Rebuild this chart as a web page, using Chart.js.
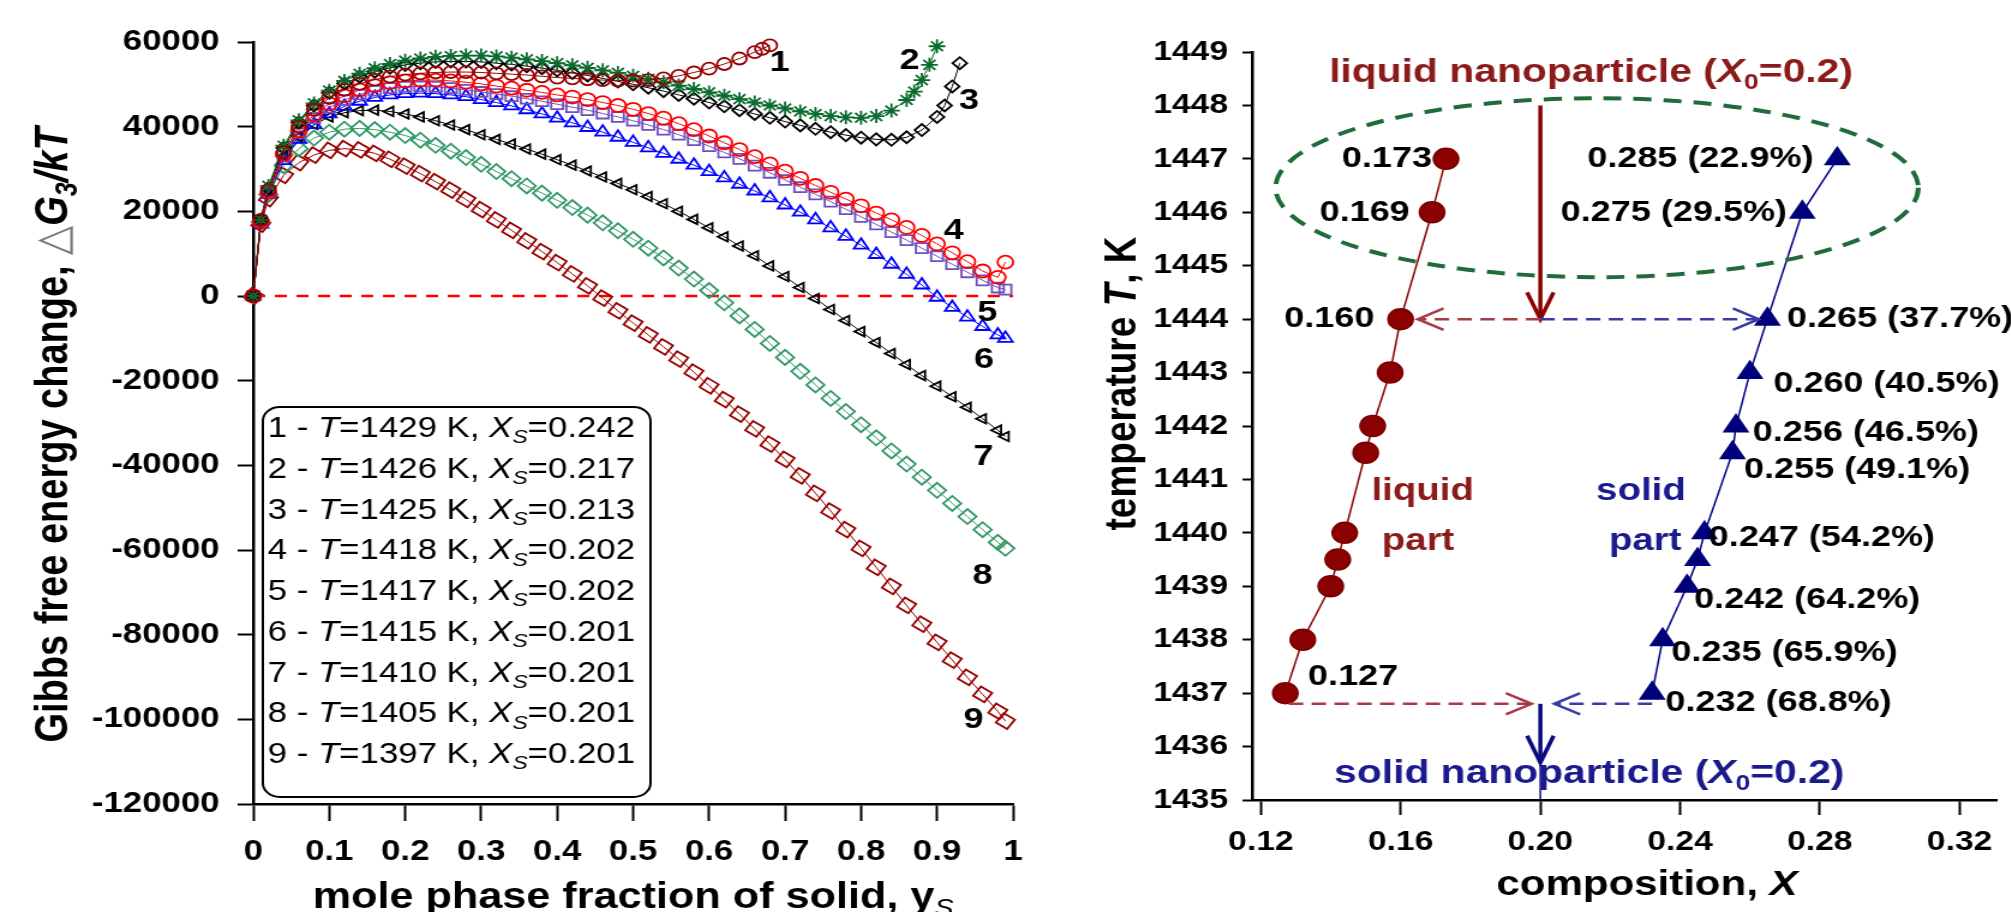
<!DOCTYPE html>
<html>
<head>
<meta charset="utf-8">
<title>Gibbs free energy change and phase composition</title>
<script src="https://cdn.jsdelivr.net/npm/chart.js@4.4.1/dist/chart.umd.min.js"></script>
<style>
  html, body { margin: 0; padding: 0; background: #fff; overflow: hidden; }
  canvas { position: absolute; top: 0; }
</style>
</head>
<body>
<!-- the original figure is stretched sideways, so the canvases are drawn narrow and widened by css -->
<canvas id="gibbsChart" width="884" height="912" style="left:0px;width:1060.8px;height:912px"></canvas>
<canvas id="phaseChart" width="793" height="912" style="left:1060px;width:951.6px;height:912px"></canvas>
<script>
'use strict';

// ---------- left panel: Gibbs free energy change vs mole phase fraction of solid ----------
let ysMain = [0, 0.01, 0.02, 0.04, 0.06, 0.08, 0.1, 0.12, 0.14, 0.16, 0.18, 0.2, 0.22, 0.24, 0.26, 0.28,
  0.3, 0.32, 0.34, 0.36, 0.38, 0.4, 0.42, 0.44, 0.46, 0.48, 0.5, 0.52, 0.54, 0.56, 0.58, 0.6, 0.62,
  0.64, 0.66, 0.68, 0.7, 0.72, 0.74, 0.76, 0.78, 0.8, 0.82, 0.84, 0.86, 0.88, 0.9, 0.92, 0.94, 0.96,
  0.98, 0.99];
let ys1 = ysMain.slice(0, 35).concat([0.67, 0.68]);
let ys2 = ysMain.slice(0, 44).concat([0.86, 0.87, 0.88, 0.89, 0.9]);
let ys3 = ysMain.slice(0, 47).concat([0.91, 0.92, 0.93]);

let g1 = [0, 18000, 25000, 34000, 40000, 44000, 46800, 48700, 50100, 51100, 51800, 52300, 52600,
  52800, 52900, 52900, 52800, 52600, 52400, 52200, 51900, 51600, 51400, 51200, 51000, 50900, 50900,
  51000, 51400, 52000, 52800, 53700, 54800, 56100, 57600, 58400, 59200];
let g2 = [0, 18000, 26000, 35500, 41500, 45500, 48500, 50800, 52500, 53800, 54800, 55600, 56100,
  56500, 56700, 56800, 56800, 56600, 56300, 55900, 55500, 55000, 54500, 53900, 53300, 52700, 52000,
  51300, 50500, 49700, 48900, 48100, 47300, 46500, 45700, 45000, 44300, 43600, 43000, 42500, 42200,
  42100, 42500, 43800, 46300, 48300, 51000, 54600, 59000];
let g3 = [0, 18000, 25500, 35000, 41000, 45000, 48000, 50200, 51800, 53000, 53900, 54600, 55000,
  55300, 55400, 55400, 55300, 55000, 54700, 54300, 53800, 53300, 52700, 52100, 51400, 50700, 50000,
  49200, 48400, 47500, 46600, 45700, 44800, 43900, 43000, 42100, 41200, 40300, 39500, 38700, 38000,
  37400, 37000, 36900, 37500, 39200, 42300, 45000, 49500, 55000];
let g4 = [0, 17500, 24500, 33500, 39000, 42800, 45400, 47300, 48700, 49700, 50400, 50800, 51000,
  51000, 50800, 50500, 50100, 49600, 49100, 48600, 48100, 47500, 47000, 46400, 45700, 45000, 44100,
  43100, 42000, 40700, 39300, 37800, 36200, 34600, 32900, 31200, 29500, 27800, 26100, 24500, 22900,
  21300, 19600, 18000, 16200, 14300, 12300, 10200, 8100, 5900, 4400, 8000];
let g5 = [0, 17500, 24500, 33000, 38500, 42000, 44500, 46300, 47600, 48500, 49100, 49400, 49500,
  49400, 49100, 48700, 48200, 47700, 47200, 46600, 46000, 45300, 44600, 43900, 43100, 42300, 41400,
  40400, 39300, 38100, 36800, 35400, 33900, 32400, 30800, 29100, 27400, 25700, 24000, 22300, 20500,
  18700, 16900, 15100, 13200, 11300, 9400, 7500, 5600, 3700, 2000, 1500];
let g6 = [0, 17000, 24000, 32000, 37000, 40500, 43000, 44800, 46000, 46900, 47500, 47800, 47900,
  47800, 47500, 47100, 46400, 45700, 44900, 44000, 43000, 42000, 40900, 39800, 38700, 37500, 36300,
  35000, 33700, 32300, 30900, 29400, 27900, 26400, 24800, 23200, 21500, 19800, 18000, 16100, 14100,
  12000, 9800, 7500, 5100, 2600, -300, -2700, -5000, -7200, -9200, -10000];
let g7 = [0, 18000, 25000, 33000, 37600, 40500, 42300, 43300, 43800, 43900, 43600, 43000, 42300,
  41400, 40400, 39300, 38100, 37000, 35900, 34700, 33500, 32200, 30900, 29500, 28100, 26600, 25100,
  23500, 21800, 20000, 18100, 16100, 14000, 11800, 9500, 7100, 4600, 2000, -600, -3200, -5800,
  -8400, -11000, -13600, -16200, -18800, -21300, -23800, -26300, -29000, -31700, -33200];
let g8 = [0, 17500, 24000, 30800, 34800, 37300, 38700, 39400, 39600, 39300, 38700, 37900, 36800,
  35600, 34200, 32700, 31100, 29400, 27700, 26000, 24300, 22600, 20900, 19100, 17300, 15400, 13400,
  11300, 9000, 6600, 4000, 1300, -1600, -4700, -7900, -11200, -14500, -17800, -21000, -24200,
  -27300, -30400, -33500, -36600, -39700, -42800, -45900, -49000, -52100, -55200, -58200, -59600];
let g9 = [0, 17000, 23000, 28500, 31500, 33300, 34400, 34800, 34500, 33700, 32300, 30700, 28900,
  27000, 25000, 22800, 20400, 18000, 15500, 13000, 10500, 7900, 5200, 2400, -500, -3500, -6400,
  -9200, -12000, -14900, -18000, -21200, -24500, -27900, -31400, -35000, -38600, -42500, -46600,
  -50800, -55200, -59600, -64100, -68600, -73100, -77500, -81800, -86000, -90100, -94100, -98100,
  -100400];

let curveT = [1429, 1426, 1425, 1418, 1417, 1415, 1410, 1405, 1397];
let legendXs = ['0.242', '0.217', '0.213', '0.202', '0.202', '0.201', '0.201', '0.201', '0.201'];
let zeroX = [0, 1];
let zeroY = [0, 0];

// where the curve numbers sit, in axis units (ys, dG)
let curveTags = [[0.693, 55100], [0.864, 55500], [0.942, 46100], [0.922, 15500], [0.966, -3900],
  [0.962, -15000], [0.961, -38000], [0.96, -66000], [0.948, -100000]];

// ---------- right panel: composition of liquid and solid parts vs temperature ----------
let liquidT = [1437, 1438, 1439, 1439.5, 1440, 1441.5, 1442, 1443, 1444, 1446, 1447];
let liquidX = [0.127, 0.132, 0.140, 0.142, 0.144, 0.150, 0.152, 0.157, 0.160, 0.169, 0.173];
let solidT = [1437, 1438, 1439, 1439.5, 1440, 1441.5, 1442, 1443, 1444, 1446, 1447];
let solidX = [0.232, 0.235, 0.242, 0.245, 0.247, 0.255, 0.256, 0.260, 0.265, 0.275, 0.285];
let compTicks = [0.12, 0.16, 0.20, 0.24, 0.28, 0.32];

let compNotes = [
  {text: '0.173', x: 0.1690, t: 1447, align: 'right'},
  {text: '0.169', x: 0.1626, t: 1446, align: 'right'},
  {text: '0.160', x: 0.1525, t: 1444, align: 'right'},
  {text: '0.127', x: 0.1335, t: 1437.31, align: 'left'},
  {text: '0.285 (22.9%)', x: 0.2782, t: 1447, align: 'right'},
  {text: '0.275 (29.5%)', x: 0.2706, t: 1446, align: 'right'},
  {text: '0.265 (37.7%)', x: 0.2706, t: 1444, align: 'left'},
  {text: '0.260 (40.5%)', x: 0.2667, t: 1442.8, align: 'left'},
  {text: '0.256 (46.5%)', x: 0.2608, t: 1441.87, align: 'left'},
  {text: '0.255 (49.1%)', x: 0.2583, t: 1441.18, align: 'left'},
  {text: '0.247 (54.2%)', x: 0.2482, t: 1439.9, align: 'left'},
  {text: '0.242 (64.2%)', x: 0.2440, t: 1438.74, align: 'left'},
  {text: '0.235 (65.9%)', x: 0.2375, t: 1437.75, align: 'left'},
  {text: '0.232 (68.8%)', x: 0.2358, t: 1436.82, align: 'left'}
];

const FAMILY = '"Liberation Sans", Arial, Helvetica, sans-serif';
Chart.defaults.font.family = FAMILY;
Chart.defaults.color = '#000';

function pairs(xs, vals) {
  return vals.map((v, i) => ({x: xs[i], y: v}));
}

function fontOf(seg, size, bold) {
  let b = seg.b === undefined ? bold : seg.b;
  let s = seg.sub ? Math.round(size * 0.66) : size;
  return (seg.i ? 'italic ' : '') + (b ? 'bold ' : '') + s + 'px ' + FAMILY;
}

// text with italic / subscript pieces, y is the baseline
function drawRich(ctx, segs, x, y, opt) {
  ctx.save();
  ctx.translate(x, y);
  if (opt.rotate) ctx.rotate(opt.rotate);
  ctx.textAlign = 'left';
  ctx.textBaseline = 'alphabetic';
  let width = 0;
  segs.forEach(seg => {
    ctx.font = fontOf(seg, opt.size, opt.bold);
    width += ctx.measureText(seg.t).width;
  });
  let cx = 0;
  if (opt.align === 'center') cx = -width / 2;
  if (opt.align === 'right') cx = -width;
  segs.forEach(seg => {
    ctx.font = fontOf(seg, opt.size, opt.bold);
    ctx.fillStyle = seg.c || opt.color || '#000';
    ctx.fillText(seg.t, cx, seg.sub ? opt.size * 0.22 : 0);
    cx += ctx.measureText(seg.t).width;
  });
  ctx.restore();
}

function roundBox(ctx, x, y, w, h, r) {
  ctx.beginPath();
  ctx.moveTo(x + r, y);
  ctx.arcTo(x + w, y, x + w, y + h, r);
  ctx.arcTo(x + w, y + h, x, y + h, r);
  ctx.arcTo(x, y + h, x, y, r);
  ctx.arcTo(x, y, x + w, y, r);
  ctx.closePath();
}

function arrow(ctx, x1, y1, x2, y2, color, width, dash, head, spread) {
  ctx.save();
  ctx.strokeStyle = color;
  ctx.lineWidth = width;
  ctx.setLineDash(dash);
  ctx.beginPath();
  ctx.moveTo(x1, y1);
  ctx.lineTo(x2, y2);
  ctx.stroke();
  let a = Math.atan2(y2 - y1, x2 - x1);
  ctx.setLineDash([]);
  ctx.beginPath();
  ctx.moveTo(x2 - head * Math.cos(a - spread), y2 - head * Math.sin(a - spread));
  ctx.lineTo(x2, y2);
  ctx.lineTo(x2 - head * Math.cos(a + spread), y2 - head * Math.sin(a + spread));
  ctx.stroke();
  ctx.restore();
}

function axisStyle(tickLength, padding, size) {
  return {
    grid: {drawOnChartArea: false, drawTicks: true, tickLength: tickLength, tickWidth: 2, tickColor: '#000'},
    border: {display: true, color: '#000', width: 2.5},
    ticks: {padding: padding, autoSkip: false, maxRotation: 0, color: '#000', font: {size: size, weight: 'bold'}}
  };
}

// ---------- left chart ----------
let curveStyles = [
  {color: '#990000', point: 'circle', r: 6},
  {color: '#0b6b2e', point: 'star', r: 7},
  {color: '#000000', point: 'rectRot', r: 6},
  {color: '#ff0000', point: 'circle', r: 6.5},
  {color: '#6f4fc0', point: 'rect', r: 7},
  {color: '#0000ff', point: 'triangle', r: 7},
  {color: '#000000', point: 'triangle', r: 5.5, rot: 270},
  {color: '#339966', point: 'rectRot', r: 7.5},
  {color: '#990000', point: 'rect', r: 8, rot: 35}
];
let curveXs = [ys1, ys2, ys3, ysMain, ysMain, ysMain, ysMain, ysMain, ysMain];
let curveVals = [g1, g2, g3, g4, g5, g6, g7, g8, g9];

let gibbsSets = curveVals.map((vals, k) => {
  let st = curveStyles[k];
  return {
    label: (k + 1) + ' - T=' + curveT[k] + ' K, Xs=' + legendXs[k],
    data: pairs(curveXs[k], vals),
    showLine: true,
    borderColor: st.color,
    borderWidth: 1,
    pointStyle: st.point,
    pointRadius: st.r,
    pointRotation: st.rot || 0,
    pointBorderColor: st.color,
    pointBackgroundColor: 'rgba(0,0,0,0)',
    pointBorderWidth: 1.8,
    clip: false
  };
});
gibbsSets.push({
  label: 'zero',
  data: pairs(zeroX, zeroY),
  showLine: true,
  borderColor: '#ff0000',
  borderWidth: 2.5,
  borderDash: [10, 8],
  pointRadius: 0
});

const gibbsDecor = {
  id: 'gibbsDecor',
  afterDraw(chart) {
    let ctx = chart.ctx;
    let x = chart.scales.x;
    let y = chart.scales.y;

    ctx.save();
    ctx.font = 'bold 30px ' + FAMILY;
    ctx.fillStyle = '#000';
    ctx.textAlign = 'center';
    ctx.textBaseline = 'middle';
    curveTags.forEach((tag, k) => {
      ctx.fillText(String(k + 1), x.getPixelForValue(tag[0]), y.getPixelForValue(tag[1]));
    });
    ctx.restore();

    // legend box
    ctx.save();
    roundBox(ctx, 219, 407, 323, 390, 14);
    ctx.fillStyle = '#fff';
    ctx.fill();
    ctx.lineWidth = 2;
    ctx.strokeStyle = '#000';
    ctx.stroke();
    ctx.restore();
    curveT.forEach((T, k) => {
      drawRich(ctx, [
        {t: (k + 1) + ' - '}, {t: 'T', i: true}, {t: '=' + T + ' K, '},
        {t: 'X', i: true}, {t: 'S', i: true, sub: true}, {t: '=' + legendXs[k]}
      ], 223, 437 + k * 40.75, {size: 29, bold: false});
    });

    // axis titles
    drawRich(ctx, [
      {t: 'Gibbs free energy change, '}, {t: '\u25B3', b: false, c: '#777'},
      {t: 'G', i: true}, {t: '3', i: true, sub: true}, {t: '/', i: true}, {t: 'k', i: true}, {t: 'T', i: true}
    ], 56, 435, {size: 38, bold: true, align: 'center', rotate: -Math.PI / 2});
    drawRich(ctx, [{t: 'mole phase fraction of solid, y'}, {t: 'S', sub: true, i: true, b: false}],
      527.5, 908, {size: 36, bold: true, align: 'center'});
  }
};

let gx = axisStyle(17, 14, 29);
gx.type = 'linear';
gx.min = 0;
gx.max = 1;
gx.ticks.stepSize = 0.1;
gx.ticks.callback = v => String(Math.round(v * 10) / 10);
gx.afterFit = s => { s.height = 108; s.paddingLeft = 0; s.paddingRight = 0; };

let gy = axisStyle(13, 15, 29);
gy.min = -120000;
gy.max = 60000;
gy.ticks.stepSize = 20000;
gy.ticks.callback = v => String(v);
gy.afterFit = s => { s.width = 211; };

new Chart(document.getElementById('gibbsChart'), {
  type: 'scatter',
  data: {datasets: gibbsSets},
  options: {
    responsive: false,
    animation: false,
    events: [],
    layout: {padding: {left: 0, right: 40, top: 42, bottom: 0}},
    plugins: {legend: {display: false}, tooltip: {enabled: false}},
    scales: {x: gx, y: gy}
  },
  plugins: [gibbsDecor]
});

// ---------- right chart ----------
const phaseDecor = {
  id: 'phaseDecor',
  afterDraw(chart) {
    let ctx = chart.ctx;
    let px = v => chart.scales.x.getPixelForValue(v);
    let py = v => chart.scales.y.getPixelForValue(v);

    // dashed ring round the first two temperatures
    ctx.save();
    ctx.strokeStyle = '#1f6b3a';
    ctx.lineWidth = 4;
    ctx.setLineDash([15, 10]);
    ctx.beginPath();
    ctx.ellipse(px(0.2162), py(1446.46), px(0.2162 + 0.092) - px(0.2162), py(1446.46) - py(1446.46 + 1.675),
      0, 0, Math.PI * 2);
    ctx.stroke();
    ctx.restore();

    // arrows
    arrow(ctx, px(0.2), py(1448.0), px(0.2), py(1444.0), '#8b0000', 3.5, [], 29, 0.39);
    arrow(ctx, px(0.2), py(1444), px(0.1649), py(1444), '#a83a44', 2.5, [12, 7], 24, 0.46);
    arrow(ctx, px(0.2), py(1444), px(0.2625), py(1444), '#3a3aa8', 2.5, [12, 7], 24, 0.46);
    arrow(ctx, px(0.128), py(1436.8), px(0.1975), py(1436.8), '#a83a44', 2.5, [12, 7], 24, 0.46);
    arrow(ctx, px(0.232), py(1436.8), px(0.204), py(1436.8), '#3a3aa8', 2.5, [12, 7], 24, 0.46);
    arrow(ctx, px(0.2), py(1436.8), px(0.2), py(1435.7), '#0a0a80', 3.5, [], 29, 0.39);
    ctx.save();
    ctx.strokeStyle = '#0a0a80';
    ctx.lineWidth = 1.5;
    ctx.beginPath();
    ctx.moveTo(px(0.2), py(1435.7));
    ctx.lineTo(px(0.2), py(1435));
    ctx.stroke();
    ctx.restore();

    // composition labels next to the points
    ctx.save();
    ctx.font = 'bold 30px ' + FAMILY;
    ctx.fillStyle = '#000';
    ctx.textBaseline = 'middle';
    compNotes.forEach(n => {
      ctx.textAlign = n.align;
      ctx.fillText(n.text, px(n.x), py(n.t));
    });
    ctx.restore();

    let red = '#8b1a1a';
    let navy = '#1a1a8c';
    drawRich(ctx, [{t: 'liquid nanoparticle ('}, {t: 'X', i: true}, {t: '0', sub: true}, {t: '=0.2)'}],
      px(0.2145), py(1448.44), {size: 34, bold: true, align: 'center', color: red});
    drawRich(ctx, [{t: 'solid nanoparticle ('}, {t: 'X', i: true}, {t: '0', sub: true}, {t: '=0.2)'}],
      px(0.214), py(1435.32), {size: 34, bold: true, align: 'center', color: navy});
    drawRich(ctx, [{t: 'liquid'}], px(0.1663), py(1440.62), {size: 32, bold: true, align: 'center', color: red});
    drawRich(ctx, [{t: 'part'}], px(0.165), py(1439.68), {size: 32, bold: true, align: 'center', color: red});
    drawRich(ctx, [{t: 'solid'}], px(0.2288), py(1440.62), {size: 32, bold: true, align: 'center', color: navy});
    drawRich(ctx, [{t: 'part'}], px(0.23), py(1439.68), {size: 32, bold: true, align: 'center', color: navy});

    // axis titles
    drawRich(ctx, [{t: 'temperature '}, {t: 'T', i: true}, {t: ', K'}],
      63, 383.5, {size: 37, bold: true, align: 'center', rotate: -Math.PI / 2});
    drawRich(ctx, [{t: 'composition, '}, {t: 'X', i: true}],
      489, 895, {size: 35, bold: true, align: 'center'});
  }
};

let px_ = axisStyle(15, 10, 28);
px_.type = 'linear';
px_.min = 0.11748;
px_.max = 0.33055;
px_.afterBuildTicks = s => { s.ticks = compTicks.map(v => ({value: v})); };
px_.ticks.callback = v => v.toFixed(2);
px_.afterFit = s => { s.height = 112; s.paddingLeft = 0; s.paddingRight = 0; };

let py_ = axisStyle(8, 12, 28);
py_.min = 1435;
py_.max = 1449;
py_.ticks.stepSize = 1;
py_.ticks.callback = v => String(v);
py_.afterFit = s => { s.width = 160; };

new Chart(document.getElementById('phaseChart'), {
  type: 'scatter',
  data: {
    datasets: [
      {
        label: 'liquid part',
        data: pairs(liquidX, liquidT),
        showLine: true,
        borderColor: '#8b0000',
        borderWidth: 1.5,
        pointStyle: 'circle',
        pointRadius: 10.5,
        pointBackgroundColor: '#8b0000',
        pointBorderColor: '#7a0000',
        clip: false
      },
      {
        label: 'solid part',
        data: pairs(solidX, solidT),
        showLine: true,
        borderColor: '#00008b',
        borderWidth: 1.5,
        pointStyle: 'triangle',
        pointRadius: 11.5,
        pointBackgroundColor: '#00007a',
        pointBorderColor: '#00007a',
        clip: false
      }
    ]
  },
  options: {
    responsive: false,
    animation: false,
    events: [],
    layout: {padding: {left: 0, right: 0, top: 52, bottom: 0}},
    plugins: {legend: {display: false}, tooltip: {enabled: false}},
    scales: {x: px_, y: py_}
  },
  plugins: [phaseDecor]
});
</script>
</body>
</html>
